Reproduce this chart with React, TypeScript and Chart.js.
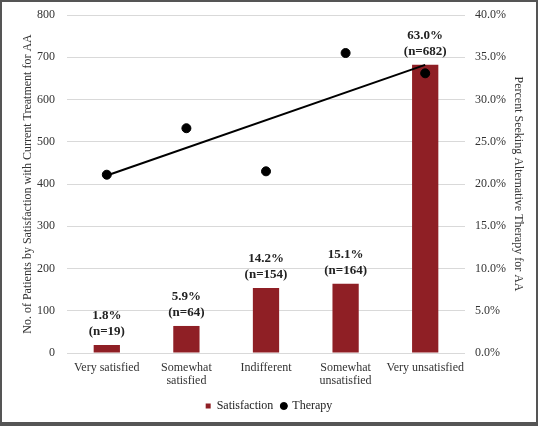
import React, { useEffect, useRef } from "react";
import { Chart, registerables } from "chart.js";

Chart.register(...registerables);

const categories: (string | string[])[] = [
  "Very satisfied",
  ["Somewhat", "satisfied"],
  "Indifferent",
  ["Somewhat", "unsatisfied"],
  "Very unsatisfied",
];
const satisfactionCounts = [19, 64, 154, 164, 682];
const satisfactionPercents = ["1.8%", "5.9%", "14.2%", "15.1%", "63.0%"];
const therapyPercent = [21.1, 26.6, 21.5, 35.5, 33.1];
const trendPercent = [21.0, null, null, null, 34.1];

const FONT = "'Liberation Serif', 'Times New Roman', serif";
const BAR_COLOR = "#8f1f25";

const barLabelPlugin = {
  id: "barLabels",
  afterDatasetsDraw(chart: any) {
    const meta = chart.getDatasetMeta(0);
    const ctx = chart.ctx;
    ctx.save();
    ctx.fillStyle = "#222";
    ctx.font = `bold 13px ${FONT}`;
    ctx.textAlign = "center";
    ctx.textBaseline = "middle";
    meta.data.forEach((bar: any, i: number) => {
      const x = bar.x;
      const y = bar.y;
      ctx.fillText(`(n=${satisfactionCounts[i]})`, x, y - 13);
      ctx.fillText(satisfactionPercents[i], x, y - 29);
    });
    ctx.restore();
  },
};

const noVerticalPad = (s: any, w: number) => {
  s.width = w;
  s.paddingTop = 0;
  s.paddingBottom = 0;
};

export default function App() {
  const ref = useRef<HTMLCanvasElement | null>(null);
  useEffect(() => {
    document.body.style.margin = "0";
    if (!ref.current) return;
    const chart = new Chart(ref.current, {
      type: "bar",
      data: {
        labels: categories as any,
        datasets: [
          {
            type: "bar",
            label: "Satisfaction",
            data: satisfactionCounts,
            backgroundColor: BAR_COLOR,
            yAxisID: "y",
            order: 3,
            barPercentage: 0.5,
            categoryPercentage: 0.66,
            pointStyle: "rect",
          } as any,
          {
            type: "line",
            label: "Therapy",
            data: therapyPercent,
            yAxisID: "y1",
            showLine: false,
            pointRadius: 4.5,
            pointBackgroundColor: "#000",
            pointBorderColor: "#000",
            backgroundColor: "#000",
            borderColor: "#000",
            pointStyle: "circle",
            order: 1,
          } as any,
          {
            type: "line",
            label: "Trend",
            data: trendPercent,
            yAxisID: "y1",
            spanGaps: true,
            pointRadius: 0,
            borderColor: "#000",
            borderWidth: 2,
            order: 2,
          } as any,
        ],
      },
      options: {
        animation: false,
        responsive: false,
        layout: { padding: { top: 15, bottom: 4, left: 0, right: 0 } },
        plugins: {
          tooltip: { enabled: false },
          legend: {
            position: "bottom",
            labels: {
              usePointStyle: true,
              boxWidth: 5,
              boxHeight: 5,
              padding: 8,
              color: "#222",
              font: { family: FONT, size: 12 },
              filter: (item: any) => item.text !== "Trend",
              sort: (a: any, b: any) => a.datasetIndex - b.datasetIndex,
            },
          },
        },
        scales: {
          x: {
            grid: { display: false },
            border: { display: false },
            ticks: {
              color: "#333",
              font: { family: FONT, size: 12, lineHeight: 1.08 },
              padding: 0,
              maxRotation: 0,
              autoSkip: false,
            },
            afterFit: (s: any) => {
              s.height = 39;
            },
          },
          y: {
            position: "left",
            min: 0,
            max: 800,
            ticks: {
              stepSize: 100,
              color: "#333",
              font: { family: FONT, size: 12 },
              padding: 12,
            },
            grid: { color: "#d9d9d9", drawTicks: false, lineWidth: 1 },
            border: { display: false },
            title: {
              display: true,
              text: "No. of Patients by Satisfaction with Current Treatment for AA",
              color: "#333",
              font: { family: FONT, size: 12 },
              padding: { top: 21, bottom: 0 },
            },
            afterFit: (s: any) => noVerticalPad(s, 67),
          },
          y1: {
            position: "right",
            min: 0,
            max: 40,
            ticks: {
              stepSize: 5,
              color: "#333",
              font: { family: FONT, size: 12 },
              padding: 10,
              callback: (v: any) => `${Number(v).toFixed(1)}%`,
            },
            grid: { display: false, drawTicks: false },
            border: { display: false },
            title: {
              display: true,
              text: "Percent Seeking Alternative Therapy for AA",
              color: "#333",
              font: { family: FONT, size: 12 },
              padding: { top: 13, bottom: 0 },
            },
            afterFit: (s: any) => noVerticalPad(s, 73),
          },
        },
      },
      plugins: [barLabelPlugin],
    });
    return () => chart.destroy();
  }, []);
  return (
    <div style={{ position: "relative", width: 538, height: 426, background: "#fff" }}>
      <canvas ref={ref} width={538} height={426} style={{ display: "block" }} />
      <div
        style={{
          position: "absolute",
          left: 0,
          top: 0,
          width: 538,
          height: 426,
          boxSizing: "border-box",
          borderTop: "2px solid #555",
          borderLeft: "2px solid #555",
          borderRight: "2px solid #555",
          borderBottom: "4px solid #555",
          pointerEvents: "none",
        }}
      />
    </div>
  );
}
